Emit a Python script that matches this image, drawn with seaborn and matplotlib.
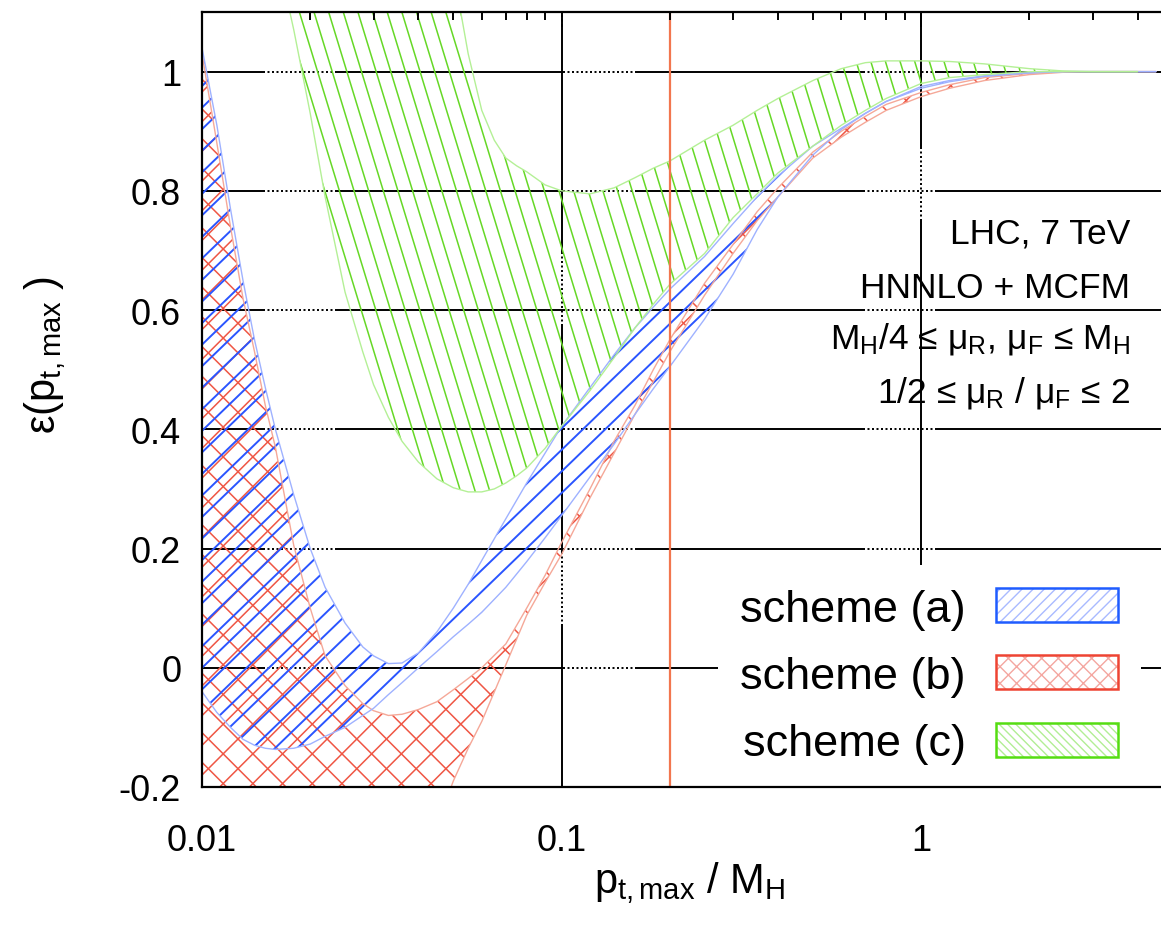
import numpy as np
import matplotlib
matplotlib.use("Agg")
import matplotlib.pyplot as plt
import matplotlib.ticker as mticker
from matplotlib.collections import LineCollection
from matplotlib.transforms import IdentityTransform
from matplotlib.patches import Patch
import pandas as pd
import seaborn as sns

# ---------------- data ----------------
x_ab = [0.010, 0.011, 0.012, 0.013, 0.014, 0.015, 0.016, 0.018, 0.020, 0.022,
        0.025, 0.028, 0.030, 0.033, 0.036, 0.040, 0.045, 0.050, 0.055, 0.060,
        0.070, 0.080, 0.090, 0.100, 0.120, 0.140, 0.160, 0.180, 0.200, 0.250,
        0.300, 0.350, 0.400, 0.500, 0.600, 0.700, 0.800, 1.0, 1.2, 1.5,
        2.0, 2.5, 3.0, 3.5, 4.0, 4.5]

scheme_a_high = [1.04, 0.91, 0.77, 0.65, 0.55, 0.47, 0.40, 0.29, 0.20, 0.135,
                 0.075, 0.035, 0.02, 0.007, 0.008, 0.025, 0.06, 0.10, 0.14, 0.18,
                 0.25, 0.31, 0.36, 0.405, 0.47, 0.525, 0.57, 0.605, 0.635, 0.69,
                 0.745, 0.79, 0.825, 0.875, 0.905, 0.93, 0.95, 0.975, 0.985, 0.993,
                 0.998, 1.0, 1.0, 1.0, 1.0, 1.0]
scheme_a_low = [-0.04, -0.075, -0.10, -0.12, -0.13, -0.135, -0.137, -0.135, -0.128, -0.115,
                -0.10, -0.08, -0.068, -0.045, -0.025, 0.0, 0.027, 0.052, 0.073, 0.093,
                0.135, 0.178, 0.218, 0.255, 0.32, 0.375, 0.425, 0.468, 0.505, 0.585,
                0.66, 0.735, 0.79, 0.86, 0.903, 0.93, 0.95, 0.972, 0.983, 0.992,
                0.998, 1.0, 1.0, 1.0, 1.0, 1.0]

scheme_b_high = [1.03, 0.88, 0.74, 0.62, 0.53, 0.44, 0.37, 0.205, 0.10, 0.02,
                 -0.03, -0.06, -0.072, -0.08, -0.078, -0.07, -0.057, -0.037, -0.018, 0.0,
                 0.04, 0.10, 0.155, 0.21, 0.30, 0.38, 0.44, 0.50, 0.55, 0.645,
                 0.71, 0.765, 0.805, 0.865, 0.90, 0.925, 0.945, 0.965, 0.978, 0.99,
                 0.997, 1.0, 1.0, 1.0, 1.0, 1.0]
scheme_b_low = [-0.60, -0.60, -0.60, -0.60, -0.60, -0.60, -0.60, -0.60, -0.58, -0.55,
                -0.50, -0.46, -0.43, -0.39, -0.35, -0.32, -0.265, -0.19, -0.135, -0.09,
                0.005, 0.088, 0.143, 0.19, 0.285, 0.36, 0.425, 0.48, 0.53, 0.625,
                0.695, 0.75, 0.79, 0.855, 0.89, 0.915, 0.935, 0.958, 0.972, 0.985,
                0.995, 0.999, 1.0, 1.0, 1.0, 1.0]

x_c = [0.016, 0.018, 0.020, 0.022, 0.025, 0.028, 0.030, 0.033, 0.036, 0.040,
       0.045, 0.050, 0.055, 0.060, 0.065, 0.070, 0.075, 0.080, 0.090, 0.100,
       0.120, 0.140, 0.160, 0.180, 0.200, 0.250, 0.300, 0.350, 0.400, 0.500,
       0.600, 0.700, 0.800, 1.0, 1.2, 1.5, 2.0, 2.5, 3.0, 3.5, 4.0]
scheme_c_high = [3.0, 3.0, 3.0, 3.0, 3.0, 2.8, 2.6, 2.3, 2.0, 1.7,
                 1.35, 1.17, 1.03, 0.935, 0.885, 0.855, 0.842, 0.832, 0.81, 0.80,
                 0.795, 0.805, 0.822, 0.838, 0.85, 0.885, 0.91, 0.935, 0.955, 0.985,
                 1.005, 1.015, 1.018, 1.018, 1.017, 1.013, 1.005, 1.001, 1.0, 1.0, 1.0]
scheme_c_low = [1.21, 1.07, 0.93, 0.79, 0.63, 0.53, 0.475, 0.42, 0.38, 0.345,
                0.317, 0.302, 0.295, 0.295, 0.30, 0.31, 0.322, 0.335, 0.368, 0.405,
                0.465, 0.52, 0.57, 0.61, 0.643, 0.695, 0.755, 0.795, 0.83, 0.875,
                0.91, 0.935, 0.955, 0.98, 0.99, 0.995, 1.0, 1.0, 1.0, 1.0, 1.0]

scheme_labels = ["scheme (a)", "scheme (b)", "scheme (c)"]
x_cut = 0.2
x_tick_values = [0.01, 0.1, 1]
x_tick_labels = ["0.01", "0.1", "1"]
info_lines = ["LHC, 7 TeV", "HNNLO + MCFM",
              r"M$_\mathrm{H}$/4 ≤ μ$_\mathrm{R}$, μ$_\mathrm{F}$ ≤ M$_\mathrm{H}$",
              r"1/2 ≤ μ$_\mathrm{R}$ / μ$_\mathrm{F}$ ≤ 2"]

# ---------------- style ----------------
sns.set_theme(style="white")
plt.rcParams['font.family'] = ['Liberation Sans', 'DejaVu Sans']
plt.rcParams['mathtext.fontset'] = 'custom'
plt.rcParams['mathtext.rm'] = 'Liberation Sans'
plt.rcParams['mathtext.it'] = 'Liberation Sans:italic'
plt.rcParams['mathtext.bf'] = 'Liberation Sans:bold'
plt.rcParams['mathtext.sf'] = 'Liberation Sans'
plt.rcParams['lines.scale_dashes'] = False
plt.rcParams['hatch.linewidth'] = 1.0

W, H = 1161, 929
fig = plt.figure(figsize=(W / 100, H / 100), dpi=100)
L, R, T, B = 202, 1165, 13, 788
ax = fig.add_axes([L / W, 1 - B / H, (R - L) / W, (B - T) / H])
ax.set_xscale('log')
ax.set_xlim(0.01, 4.77)
ax.set_ylim(-0.2, 1.1)

band_specs = [
    # (x, low, high, edge colour, hatch colour, hatch angles, spacing px, hatch lw)
    (x_ab, scheme_b_low, scheme_b_high, '#f5a898', '#ef5644', [45, -45], 21.0, 1.1),
    (x_ab, scheme_a_low, scheme_a_high, '#9fb2ff', '#2a55ff', [44], 15.5, 1.4),
    (x_c, scheme_c_low, scheme_c_high, '#b4f096', '#66d826', [-73], 14.0, 1.1),
]

# band edges through seaborn
rows = []
for name, (xs, lo, hi, ec, hc, ang, sp, hlw) in zip(["b", "a", "c"], band_specs):
    for edge, vals in (("low", lo), ("high", hi)):
        for xv, yv in zip(xs, vals):
            rows.append({"x": xv, "y": yv, "band": name, "edge": name + edge})
df = pd.DataFrame(rows)
sns.lineplot(data=df, x="x", y="y", hue="band", units="edge", estimator=None,
             palette={"b": '#f5a898', "a": '#9fb2ff', "c": '#b4f096'},
             linewidth=1.0, legend=False, ax=ax, zorder=3, sort=False)

# hatched fills: fill polygon used as clip path, hatch lines laid out in pixel space
bx0, by0, bx1, by1 = ax.bbox.extents
diag = np.hypot(bx1 - bx0, by1 - by0)
cx, cy = (bx0 + bx1) / 2, (by0 + by1) / 2
for z, (xs, lo, hi, ec, hc, angles, spacing, hlw) in enumerate(band_specs):
    poly = ax.fill_between(xs, lo, hi, facecolor='none', edgecolor='none', linewidth=0)
    path = poly.get_paths()[0]
    for a in angles:
        t = np.deg2rad(a)
        d = np.array([np.cos(t), np.sin(t)])
        n = np.array([-np.sin(t), np.cos(t)])
        offs = np.arange(-diag / 2, diag / 2 + spacing, spacing)
        segs = []
        for o in offs:
            c = np.array([cx, cy]) + o * n
            segs.append([c - d * diag, c + d * diag])
        lc = LineCollection(segs, colors=hc, linewidths=hlw, transform=IdentityTransform(),
                            zorder=2 + z * 0.1)
        lc.set_clip_path(path, ax.transData)
        lc.set_clip_box(ax.bbox)
        ax.add_collection(lc, autolim=False)

# vertical cut line
ax.axvline(x_cut, color='#f2764e', linewidth=1.6, zorder=4)

# grid: long solid dash followed by a dotted stretch (px -> pt)
px = 0.72
dots = [2.0 * px, 2.5 * px] * 24
pattern = [230 * px, 2.5 * px] + dots
for yv in [0.0, 0.2, 0.4, 0.6, 0.8, 1.0]:
    ax.axhline(yv, color='black', linewidth=1.4, zorder=1.5,
               linestyle=(167 * px, pattern))
ax.axvline(0.1, color='black', linewidth=1.4, zorder=1.5, linestyle=(67 * px, pattern))
ax.axvline(1.0, color='black', linewidth=1.4, zorder=1.5,
           linestyle=(0, [568 * px, 2.5 * px] + dots + [400 * px, 1 * px]))

# axes / ticks
for s in ax.spines.values():
    s.set_color('black')
    s.set_linewidth(1.6)
    s.set_zorder(12)
ax.xaxis.set_zorder(12)
ax.yaxis.set_zorder(12)
ax.xaxis.set_major_locator(mticker.FixedLocator(x_tick_values))
ax.xaxis.set_major_formatter(mticker.FixedFormatter(x_tick_labels))
ax.xaxis.set_minor_locator(mticker.LogLocator(base=10, subs=np.arange(2, 10), numticks=20))
ax.xaxis.set_minor_formatter(mticker.NullFormatter())
ax.yaxis.set_major_locator(mticker.MultipleLocator(0.2))
ax.yaxis.set_minor_locator(mticker.MultipleLocator(0.1))


def yfmt(v, _):
    v = round(v, 6) + 0.0
    s = ('%.1f' % v).rstrip('0').rstrip('.')
    return '0' if s in ('-0', '') else s


ax.yaxis.set_major_formatter(mticker.FuncFormatter(yfmt))
ax.tick_params(which='both', direction='in', top=True, right=False, color='black',
               labelsize=26, labelcolor='black')
ax.tick_params(which='major', length=11, width=1.4)
ax.tick_params(which='minor', length=6, width=1.4)
ax.tick_params(axis='x', which='major', pad=26)
ax.tick_params(axis='y', which='major', pad=15)

ax.set_xlabel(r"p$_\mathrm{t,max}$ / M$_\mathrm{H}$", fontsize=30, color='black')
ax.set_ylabel(r"ε(p$_\mathrm{t,max}$ )", fontsize=30, color='black')
ax.xaxis.set_label_coords((690 - L) / (R - L), (B - 860) / (B - T))
ax.yaxis.set_label_coords((68 - L) / (R - L), (B - 355) / (B - T))

# info text
ys = [0.7032, 0.6323, 0.5677, 0.4968]
x_info = (1130 - L) / (R - L)
for txt, yv in zip(info_lines, ys):
    ax.text(x_info, yv, txt, transform=ax.transAxes, ha='right', va='baseline',
            fontsize=25.5, color='black', zorder=6)

# legend
handles = [
    (Patch(facecolor='none', edgecolor='#a9baff', hatch='///', linewidth=0),
     Patch(facecolor='none', edgecolor='#1f5cff', linewidth=1.8)),
    (Patch(facecolor='none', edgecolor='#f4a6a0', hatch='xx', linewidth=0),
     Patch(facecolor='none', edgecolor='#ee4433', linewidth=1.8)),
    (Patch(facecolor='none', edgecolor='#b2ee94', hatch='\\\\\\\\', linewidth=0),
     Patch(facecolor='none', edgecolor='#55dd11', linewidth=1.8)),
]
leg_fs = 32.5
leg = ax.legend(handles, scheme_labels, loc='lower right',
                bbox_to_anchor=((1141 - L) / (R - L), 0.0),
                borderaxespad=0, borderpad=0.5, markerfirst=False, fontsize=leg_fs,
                handlelength=2.71, handleheight=0.78, handletextpad=0.67,
                labelspacing=0.57, frameon=True, fancybox=False, framealpha=1,
                facecolor='white', edgecolor='none')
leg.set_zorder(10)
for t in leg.get_texts():
    t.set_color('black')

fig.savefig("out.png", dpi=100, facecolor='white')
